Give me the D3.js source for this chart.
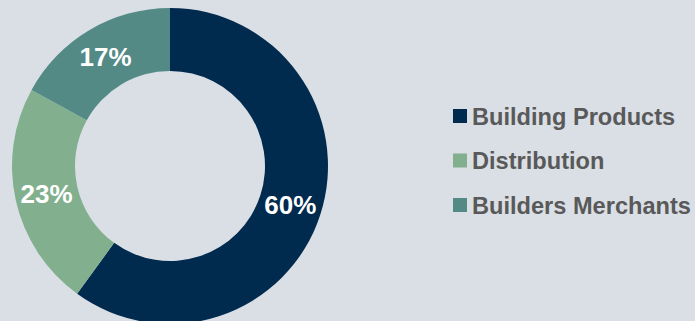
<!DOCTYPE html>
<html>
<head>
<meta charset="utf-8">
<script src="https://cdn.jsdelivr.net/npm/d3@7"></script>
<style>
  html, body { margin: 0; padding: 0; background: #dadfe6; }
  svg { display: block; }
  .slicetext { fill: #ffffff; font-family: Arial, Helvetica, "Liberation Sans", sans-serif; font-weight: bold; font-size: 26px; }
  .legendtext { fill: #595959; font-family: Arial, Helvetica, "Liberation Sans", sans-serif; font-weight: bold; font-size: 23.6px; }
</style>
</head>
<body>
<div id="chart"></div>
<script>
// segment data, clockwise from 12 o'clock
var categories = ["Building Products", "Distribution", "Builders Merchants"];
var shares = [60, 23, 17];
var labels = ["60%", "23%", "17%"];
var colors = ["#002a4e", "#82b08e", "#548a86"];

var width = 695, height = 321;

var svg = d3.select("#chart").append("svg")
    .attr("width", width)
    .attr("height", height);

var data = categories.map(function(c, i) {
    return {name: c, value: shares[i], label: labels[i], color: colors[i]};
});

var pie = d3.pie()
    .sort(null)
    .value(function(d) { return d.value; });

var arc = d3.arc()
    .innerRadius(95)
    .outerRadius(158);

var donut = svg.append("g")
    .attr("transform", "translate(170,166)");

var slices = donut.selectAll("g.slice")
    .data(pie(data)).enter().append("g")
    .attr("class", "slice");

slices.append("path")
    .attr("d", arc)
    .attr("fill", function(d) { return d.data.color; });

slices.append("text")
    .classed("slicetext", true)
    .attr("transform", function(d) { return "translate(" + arc.centroid(d) + ")"; })
    .attr("text-anchor", "middle")
    .attr("dy", "0.36em")
    .text(function(d) { return d.data.label; });

// legend on the right
var legendY = d3.scalePoint()
    .domain(categories)
    .range([116, 205]);

var legend = svg.append("g").attr("class", "legend");

var rows = legend.selectAll("g.row")
    .data(data).enter().append("g")
    .attr("class", "row")
    .attr("transform", function(d) { return "translate(453," + legendY(d.name) + ")"; });

rows.append("rect")
    .attr("x", 0)
    .attr("y", -7)
    .attr("width", 14)
    .attr("height", 14)
    .attr("fill", function(d) { return d.color; });

rows.append("text")
    .classed("legendtext", true)
    .attr("x", 19)
    .attr("dy", "0.36em")
    .text(function(d) { return d.name; });
</script>
</body>
</html>
